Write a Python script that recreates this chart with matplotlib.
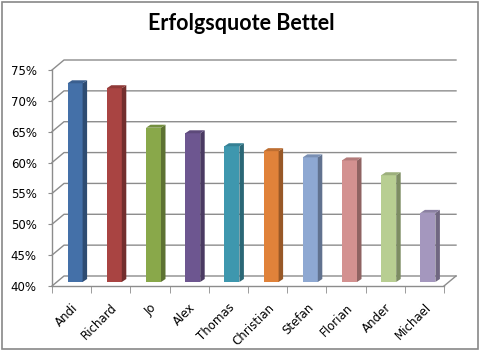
import numpy as np
import matplotlib as mpl
mpl.use('Agg')
import matplotlib.pyplot as plt
from matplotlib.patches import Polygon, Rectangle
from matplotlib.ticker import FuncFormatter

names = ['Andi', 'Richard', 'Jo', 'Alex', 'Thomas', 'Christian',
         'Stefan', 'Florian', 'Ander', 'Michael']
quote = [72.2, 71.4, 65.0, 64.1, 62.0, 61.2, 60.2, 59.7, 57.3, 51.2]
colors = ['#4470a8', '#a94442', '#89a84a', '#6d5690', '#3e97ae',
          '#e0823a', '#8ea8d2', '#d39190', '#b8ce92', '#a497be']
yticks = [40, 45, 50, 55, 60, 65, 70, 75]

W, H = 481, 351
fig = plt.figure(figsize=(W / 100, H / 100), dpi=100)
plt.rcParams.update({'font.family': 'DejaVu Sans', 'font.size': 8.5})

# front axis box in pixels: x 52..444, y 70..286
ax = fig.add_axes([52 / W, (H - 286) / H, 392 / W, 216 / H])
ax.set_xlim(-0.5, 9.5)
ax.set_ylim(40, 75)

px = 10 / 392          # one pixel in x data units
py = 35 / 216          # one pixel in y data units
grey = '#8c8c8c'

# pseudo 3d: back wall offset and bar offsets
wdx, wdy = 12 * px, 10 * py
bdx, bdy = 4.5 * px, 3 * py
bw = 15 * px
boff = 3.5 * px
by = 4 * py

# back wall and side wall gridlines
for v in yticks:
    ax.plot([-0.5, -0.5 + wdx, 9.5 + wdx], [v, v + wdy, v + wdy],
            color=grey, lw=1, clip_on=False, zorder=1)
# floor right edge
ax.plot([9.5, 9.5 + wdx], [40, 40 + wdy], color=grey, lw=1,
        clip_on=False, zorder=1)


def shade(c, f):
    r, g, b = mpl.colors.to_rgb(c)
    return (r * f, g * f, b * f)


for i, (v, c) in enumerate(zip(quote, colors)):
    xl = i + boff - bw / 2
    xr = xl + bw
    y0 = 40 + by
    y1 = v + by
    ax.add_patch(Rectangle((xl, y0), bw, v - 40, facecolor=c,
                           edgecolor='none', clip_on=False, zorder=3))
    ax.add_patch(Polygon([(xr, y0), (xr + bdx, y0 + bdy), (xr + bdx, y1 + bdy), (xr, y1)],
                         closed=True, facecolor=shade(c, 0.68),
                         edgecolor='none', clip_on=False, zorder=3))
    ax.add_patch(Polygon([(xl, y1), (xr, y1), (xr + bdx, y1 + bdy), (xl + bdx, y1 + bdy)],
                         closed=True, facecolor=shade(c, 0.85),
                         edgecolor='none', clip_on=False, zorder=3))

for s in ['top', 'right']:
    ax.spines[s].set_visible(False)
for s in ['left', 'bottom']:
    ax.spines[s].set_color(grey)
    ax.spines[s].set_linewidth(1)
    ax.spines[s].set_zorder(4)

ax.set_yticks(yticks)
ax.yaxis.set_major_formatter(FuncFormatter(lambda v, p: '%d%%' % v))
ax.tick_params(axis='y', length=3, color=grey, pad=8)

ax.set_xticks(range(len(names)))
ax.set_xticklabels(names, rotation=45, ha='right', rotation_mode='anchor')
ax.set_xticks(np.arange(-0.5, 10, 1), minor=True)
ax.tick_params(axis='x', which='major', length=0, pad=11)
ax.tick_params(axis='x', which='minor', length=5, color=grey)
ax.patch.set_visible(False)

fig.text(241 / W, 1 - 24 / H, 'Erfolgsquote Bettel', ha='center', va='center',
         fontsize=15.5, fontweight='bold', family='Lato')

# chart area border
fig.add_artist(Rectangle((1.5 / W, 2.5 / H), (W - 4) / W, (H - 4) / H,
                         transform=fig.transFigure, fill=False,
                         edgecolor='#888888', lw=1.2))

fig.savefig('out.png', dpi=100)
